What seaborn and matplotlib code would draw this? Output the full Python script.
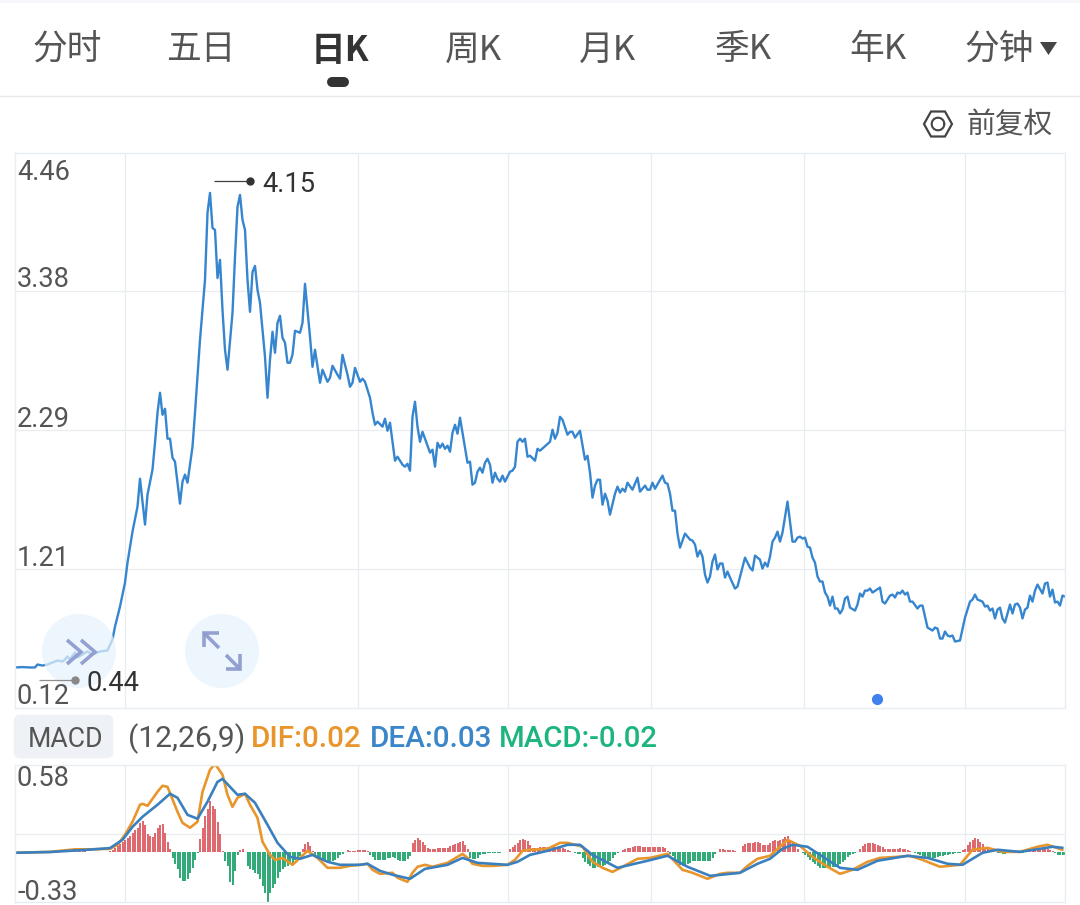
import numpy as np
import pandas as pd
import matplotlib
matplotlib.use("Agg")
import matplotlib.pyplot as plt
from matplotlib.patches import Circle, FancyBboxPatch, Rectangle, Polygon
from matplotlib.lines import Line2D
import seaborn as sns

# ---------- data ----------
price_day = [0,3,6,8,9,11,13,15,17,19,20,21,22,24,25,29,31,34,37,39,40,42,44,45,47,49,50,52,53,55,56,57,58,59,60,61,62,63,64,66,67,68,69,71,72,
74,76,77,78,79,80,81,82,83,84,85,87,88,89,90,91,92,93,94,95,96,97,98,100,101,102,103,104,105,106,107,108,109,110,111,112,114,115,116,118,119,120,122,123,125,126,127,129,130,131,133,134,135,136,138,139,140,142,143,144,145,
147,148,149,150,152,153,155,156,157,158,159,160,161,162,163,166,167,168,169,170,171,172,173,174,175,176,177,178,179,181,182,183,184,185,186,187,188,189,190,191,192,193,194,195,196,198,199,200,201,202,203,204,205,206,208,209,210,
214,215,216,217,218,219,221,222,223,224,226,228,229,230,231,232,233,234,235,236,237,238,240,241,242,243,244,245,247,249,250,252,253,254,255,256,259,260,261,262,263,264,265,266,268,270,271,272,273,274,275,276,277,278,279,280,281,282,283,284,285,286,288,289,292,294,295,296,298,299,300,301,302,303,304,305,306,307,309,311,312,313,314,315,316,317,318,319,320,321,322,323,324,325,326,327,328,329,330,331,
332,333,334,336,337,338,339,340,341,342,343,346,347,348,350,351,352,353,354,355,356,357,358,359,361,362,363,365,367,368,369,370,371,372,373,374,375,376,378,380,382,383,384,385,387,388,389,390,391,392,393,394,395,396,398,399,400,401,402,403,404,405,406,407,408,409,411,412,413,414,415,416,417,418,419,420]
price = [.437,.44,.437,.437,.46,.452,.46,.476,.491,.484,.499,.523,.499,.554,.515,.562,.538,.562,.57,.656,.757,.913,1.10,1.257,1.499,1.695,1.913,1.554,1.788,1.984,2.194,2.429,2.585,2.413,2.46,2.226,2.226,2.077,2.046,1.718,1.89,1.945,1.882,2.163,2.429,
2.999,3.468,3.991,4.148,3.874,3.858,3.483,3.624,3.233,2.921,2.765,3.21,3.648,4.038,4.132,3.937,3.858,3.468,3.218,3.53,3.577,3.39,3.288,2.866,2.546,2.843,3.062,2.898,3.132,3.187,3.015,2.976,2.82,2.82,2.882,3.07,3.054,3.132,3.437,3.023,2.788,2.921,2.663,2.765,2.671,2.702,2.796,2.726,2.695,2.882,2.726,2.632,2.663,2.78,2.671,2.695,2.671,2.546,2.429,2.335,2.359,
2.32,2.382,2.288,2.351,2.054,2.085,2.023,2.007,2.03,1.976,2.398,2.515,2.32,2.202,2.28,2.117,2.14,2.007,2.194,2.155,2.187,2.147,2.171,2.124,2.272,2.335,2.265,2.39,2.272,2.038,2.046,1.866,1.882,1.968,1.999,1.96,2.038,2.069,2.023,1.882,1.96,1.913,1.89,1.937,1.89,1.968,1.976,2.007,2.202,2.226,2.202,2.226,2.085,2.093,2.054,2.147,2.132,
2.202,2.296,2.226,2.272,2.397,2.374,2.257,2.28,2.28,2.234,2.288,2.062,2.093,1.96,1.765,1.859,1.905,1.905,1.71,1.796,1.741,1.632,1.796,1.851,1.804,1.835,1.812,1.882,1.827,1.921,1.812,1.859,1.827,1.827,1.882,1.835,1.937,1.882,1.874,1.796,1.663,1.663,1.484,1.374,1.484,1.437,1.429,1.398,1.304,1.351,1.304,1.163,1.101,1.148,1.265,1.32,1.203,1.25,1.25,1.14,1.187,1.14,1.054,1.07,1.296,1.218,1.195,1.312,1.28,1.21,1.257,1.226,1.304,1.421,1.452,1.499,1.421,1.492,1.734,1.421,1.421,1.452,1.46,1.445,1.452,1.382,1.374,1.296,1.257,1.148,1.109,1.109,1.023,.991,.921,.991,.898,.898,.859,.89,
.976,.991,.905,.882,.929,1.015,.991,1.038,1.038,1.054,1.023,1.062,.952,.937,.999,1.007,.984,1.023,1.015,1.038,1.007,1.023,.952,.952,.898,.921,.921,.749,.726,.749,.741,.663,.663,.718,.687,.679,.687,.64,.648,.827,.952,.968,1.007,.968,.952,.913,.921,.882,.898,.82,.89,.905,.82,.788,.929,.859,.929,.937,.905,.82,.89,.905,.999,.952,1.038,1.085,1.015,1.093,1.101,.991,1.046,.945,.952,.921,.999,.991]

dif_day = [0,14,24,30,38,41,44,47,50,51,53,57,59,61,65,67,70,73,75,78,80,83,85,87,89,92,94,97,99,102,104,107,111,114,117,121,125,130,134,138,141,143,146,151,153,157,159,161,164,167,173,179,181,183,187,191,197,200,203,206,213,218,221,227,231,235,239,243,249,254,261,267,271,277,282,285,290,293,297,302,306,309,314,319,325,330,335,341,346,353,358,363,370,378,383,389,395,402,409,413,419]
dif = [-.003,.003,.02,.02,.023,.05,.116,.203,.316,.322,.309,.402,.442,.435,.269,.196,.163,.203,.402,.548,.588,.515,.382,.302,.362,.389,.316,.229,.07,-.017,-.05,-.037,-.083,-.037,.01,-.037,-.103,-.103,-.09,-.083,-.076,-.116,-.143,-.136,-.169,-.196,-.136,-.096,-.083,-.096,-.07,-.01,-.037,-.076,-.09,-.09,-.083,-.05,.01,.017,.023,.063,.063,.037,-.063,-.103,-.13,-.096,-.043,-.037,-.01,-.116,-.136,-.176,-.143,-.136,-.136,-.09,-.043,-.023,.037,.083,.043,-.03,-.096,-.143,-.116,-.063,-.037,-.03,-.023,-.05,-.096,-.083,.017,.03,.003,.003,.037,.05,.017]

dea_day = [0,14,24,30,38,43,47,51,57,62,65,69,73,77,81,83,86,89,92,96,101,105,110,114,119,125,130,138,141,146,151,158,164,173,179,185,197,201,206,213,221,226,231,241,253,261,269,278,282,290,297,302,307,311,317,322,330,337,345,357,365,373,379,387,393,402,410,415,419]
dea = [-.003,.002,.012,.018,.028,.083,.169,.236,.316,.389,.362,.249,.223,.336,.468,.488,.435,.382,.389,.329,.183,.063,-.03,-.043,-.017,-.063,-.083,-.083,-.076,-.123,-.149,-.176,-.11,-.083,-.037,-.07,-.083,-.063,-.017,.01,.05,.05,-.017,-.103,-.056,-.023,-.096,-.156,-.15,-.136,-.076,-.043,.023,.05,.037,-.017,-.103,-.116,-.056,-.023,-.037,-.076,-.083,-.003,.017,.003,.023,.037,.03]

macd_bar = [.001,.001,.001,.001,.001,.001,.001,.001,.001,.001,.001,.001,.001,.001,.002,.002,.002,.002,.002,.002,.002,.003,
.005,.006,.006,.006,.006,.006,.006,.005,.005,.004,.003,.001,.001,.001,.001,.002,
.01,.018,.027,.04,.055,.066,.08,.093,.11,.126,.146,.16,.193,.21,.18,.125,.106,.10,.127,.159,.18,.186,.126,.07,.02,-.04,-.08,-.113,-.17,-.193,-.19,-.18,-.14,-.106,-.05,-.007,.086,.16,.24,.29,.339,.31,.286,.2,.12,.007,-.06,-.093,-.2,-.22,-.126,-.02,.015,.02,.005,-.09,-.113,-.12,-.135,-.146,-.18,-.226,-.27,-.339,-.27,-.24,-.213,-.17,-.13,-.113,-.1,-.09,-.08,-.08,-.05,-.04,-.027,.02,.053,.066,.04,.01,-.027,-.04,-.05,-.055,-.06,-.06,-.06,-.06,-.05,-.04,-.02,-.013,.005,.013,.01,.007,.01,.013,.013,.013,.013,.01,-.02,-.03,-.05,-.053,-.053,-.053,-.05,-.04,-.035,-.033,-.04,-.05,-.055,-.06,-.055,-.045,-.027,.06,.085,.093,.08,.066,.05,.03,.02,.022,.025,.027,.028,.028,.03,.03,.04,.05,.053,.06,.066,.073,.05,.02,-.04,-.045,-.047,-.04,-.02,-.013,-.01,-.007,-.007,-.007,-.005,-.003,-.002,0,.002,.005,.02,.033,.05,.06,.08,.086,.08,.073,.05,.027,.027,.03,.033,.033,.033,.033,.033,.033,.033,.033,.033,.03,.02,.013,.007,.002,-.005,-.01,-.013,-.04,-.066,-.08,-.09,-.106,-.106,-.1,-.093,-.09,-.085,-.08,-.06,-.04,-.02,-.005,.005,.013,.02,.027,.03,.035,.04,.04,.04,.035,.033,.033,.033,.033,.033,.033,.035,.037,.03,.007,-.013,-.027,-.05,-.07,-.085,-.093,-.085,-.08,-.07,-.06,-.06,-.06,-.06,-.06,-.06,-.06,-.06,-.04,-.013,.005,.02,.02,.015,.015,.013,.013,.007,.003,.005,.04,.053,.06,.06,.065,.066,.066,.06,.05,.047,.05,.06,.073,.08,.073,.085,.09,.1,.106,.085,.066,.04,.02,.002,-.007,-.02,-.03,-.05,-.066,-.08,-.093,-.106,-.106,-.106,-.106,-.1,-.1,-.1,-.09,-.08,-.066,-.05,-.03,-.02,-.01,-.002,.002,.02,.04,.053,.06,.06,.06,.055,.05,.045,.033,.02,.02,.02,.023,.025,.025,.027,.025,.02,.013,.007,0,-.005,-.01,-.02,-.027,-.03,-.033,-.04,-.04,-.04,-.033,-.027,-.027,-.02,-.02,-.013,-.01,-.007,-.007,-.005,.013,.02,.05,.07,.08,.093,.09,.07,.053,.033,.02,.013,.007,.003,-.003,-.007,-.013,-.01,0,.005,.005,-.002,-.005,-.005,-.007,.002,.005,.01,.013,.013,.013,.015,.02,.02,.02,.015,.007,-.007,-.015,-.02,-.02,-.02]

price_ticks = [4.46, 3.38, 2.29, 1.21, 0.12]
macd_ticks = [0.58, -0.33]
date_grid = [44, 137.2, 197.2, 254.4, 315.6, 380]
tabs = ["分时", "五日", "日K", "周K", "月K", "季K", "年K", "分钟"]
tab_x = [67, 201, 340, 473, 608, 743, 878, 999]

# ---------- layout ----------
sns.set_theme(style="white")
plt.rcParams['font.family'] = ['Roboto', 'Noto Sans CJK SC', 'DejaVu Sans']
W, H = 1080, 905
fig = plt.figure(figsize=(W/100, H/100), dpi=100, facecolor="white")

def ax_px(l, t, r, b):
    return fig.add_axes([l/W, 1-b/H, (r-l)/W, (b-t)/H])
def P(x, y):
    return (x/W, 1-y/H)

GRID = "#e8edf2"
BLUE = "#3585CF"
ax = ax_px(15, 153, 1065, 708)
ax2 = ax_px(15, 765, 1065, 902)

for a in (ax, ax2):
    a.set_xlim(0, 420)
    for s in a.spines.values():
        s.set_color(GRID); s.set_linewidth(1.0)
    a.set_xticks(date_grid)
    a.set_xticklabels([])
    a.grid(True, color=GRID, linewidth=0.9)
    a.set_axisbelow(True)
    a.tick_params(length=0, labelleft=False, labelbottom=False)

# price panel
ax.set_ylim(0.12, 4.46)
ax.set_yticks(price_ticks[1:-1])
sns.lineplot(x=price_day, y=price, ax=ax, color=BLUE, linewidth=1.7, estimator=None, sort=False, legend=False)
ax.set_xlabel(""); ax.set_ylabel("")

# MACD panel
ax2.set_ylim(-0.33, 0.58)
ax2.set_yticks([0.125])
bars = pd.DataFrame({"day": np.arange(len(macd_bar)), "macd": macd_bar})
bars["dir"] = np.where(bars["macd"] >= 0, "up", "down")
sns.barplot(data=bars, x="day", y="macd", hue="dir", palette={"up": "#F2555C", "down": "#1FBF7B"},
            dodge=False, native_scale=True, width=0.8, errorbar=None, legend=False, ax=ax2, linewidth=0)
sns.lineplot(x=dif_day, y=dif, ax=ax2, color="#E8952B", linewidth=1.9, estimator=None, sort=False, legend=False)
sns.lineplot(x=dea_day, y=dea, ax=ax2, color="#3A80BE", linewidth=1.9, estimator=None, sort=False, legend=False)
ax2.set_xlim(0, 420); ax2.set_ylim(-0.33, 0.58)
ax2.set_xlabel(""); ax2.set_ylabel("")

def T(x, y, s, size, color="#555555", ha="left", weight="normal", **kw):
    return fig.text(x/W, 1-y/H, s, fontsize=size, color=color, ha=ha, va="center", fontweight=weight, **kw)

# axis labels inside the plots
label_y = [172, 279, 419, 558, 697]
for v, y in zip(price_ticks, label_y):
    T(17, y, f"{v:.2f}", 19.6)
for v, y in zip(macd_ticks, [778, 892]):
    T(17, y, f"{v:.2f}", 19.6)

# tab bar
fig.add_artist(Rectangle(P(0, 3), 1, 3/H, transform=fig.transFigure, color="#f6f7fa", lw=0))
for s, x in zip(tabs, tab_x):
    sel = s == "日K"
    fig.text(x/W, 1-50/H, s, fontsize=25, ha="center", va="center",
             color="#333333" if sel else "#555555", fontweight="bold" if sel else "normal",
             family=['Noto Sans CJK SC', 'DejaVu Sans'])
fig.add_artist(Polygon([P(1040, 42), P(1057, 42), P(1048.5, 55)], transform=fig.transFigure, color="#444444", lw=0))
fig.add_artist(Line2D([331.5/W, 343.5/W], [1-82/H, 1-82/H], transform=fig.transFigure, color="#333333", lw=7.2,
                      solid_capstyle="round"))
fig.add_artist(Line2D([0, 1], [1-96/H, 1-96/H], transform=fig.transFigure, color="#e8e8e8", lw=1))

# adjust icon and label
hex_pts = [P(924, 124), P(931, 111.5), P(945, 111.5), P(952, 124), P(945, 136.5), P(931, 136.5)]
fig.add_artist(Polygon(hex_pts, closed=True, transform=fig.transFigure, fc="none", ec="#444444", lw=1.6))
ring_x = 938 + 6.3*np.cos(np.linspace(0, 2*np.pi, 40))
ring_y = 124 + 6.3*np.sin(np.linspace(0, 2*np.pi, 40))
fig.add_artist(Line2D(ring_x/W, 1-ring_y/H, transform=fig.transFigure, color="#444444", lw=1.5))
fig.text(1010/W, 1-125/H, "前复权", fontsize=20.7, ha="center", va="center", color="#555555",
         family=['Noto Sans CJK SC', 'DejaVu Sans'])

# floating round buttons
def disc(cx, cy, r=37):
    t = np.linspace(0, 2*np.pi, 120)
    fig.add_artist(Polygon(np.c_[(cx + r*np.cos(t))/W, 1-(cy + r*np.sin(t))/H], closed=True,
                           transform=fig.transFigure, fc="#e6f3fd", ec="none", alpha=0.72))
def stroke(xs, ys, c="#8E9CCF", lw=2.6):
    fig.add_artist(Line2D(np.array(xs)/W, 1-np.array(ys)/H, transform=fig.transFigure, color=c, lw=lw,
                          solid_capstyle="butt", solid_joinstyle="miter", alpha=0.95))
disc(79, 651); disc(222, 651)
stroke([67, 81, 67], [640, 652, 664]); stroke([81, 95, 81], [640, 652, 664])
stroke([204, 204, 219], [647, 633, 633]); stroke([204, 219], [633, 648])
stroke([226, 240], [655, 669]); stroke([226, 240, 240], [669, 669, 654])

# high / low callouts
stroke([214, 247], [181, 181], c="#333333", lw=0.9)
fig.add_artist(Line2D([250/W], [1-181/H], transform=fig.transFigure, marker="o", ms=5, color="#333333", lw=0))
T(262, 184, "4.15", 19.6, color="#333333")
stroke([39, 72], [680, 680], c="#888888", lw=0.9)
fig.add_artist(Line2D([74.5/W], [1-680/H], transform=fig.transFigure, marker="o", ms=5, color="#888888", lw=0))
T(87, 683, "0.44", 19.6, color="#333333")
fig.add_artist(Line2D([876.5/W], [1-699/H], transform=fig.transFigure, marker="o", ms=7, color="#3F7FEE", lw=0))

# MACD header
fig.add_artist(FancyBboxPatch(P(18, 754), 91/W, 35/H, boxstyle="round,pad=0.004,rounding_size=0.006",
                              mutation_aspect=W/H, transform=fig.transFigure, fc="#eef1f5", ec="none"))
T(65.5, 739, "MACD", 19.2, ha="center", color="#555555")
T(128, 739, "(12,26,9)", 21.6)
T(251, 739, "DIF:0.02", 21.4, color="#E8952B", weight="medium")
T(370, 739, "DEA:0.03", 21.4, color="#3A86C8", weight="medium")
T(499, 739, "MACD:-0.02", 21.2, color="#1DB57E", weight="medium")

fig.savefig("out.png", dpi=100, facecolor="white")
